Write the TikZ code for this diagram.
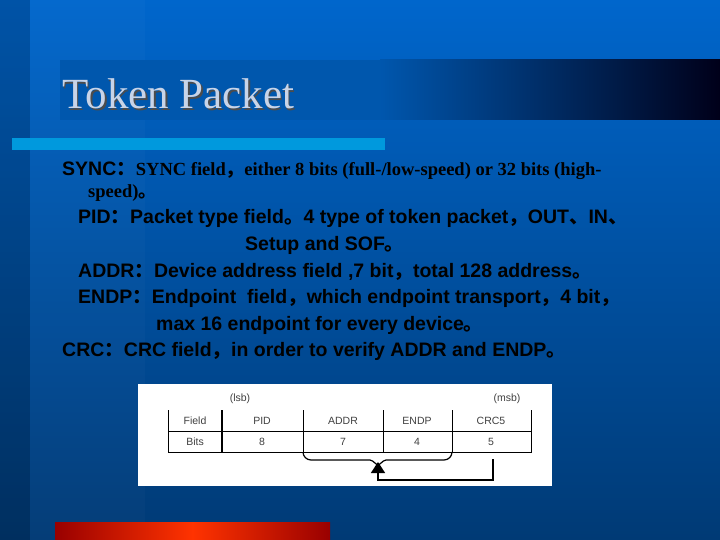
\documentclass[tikz,border=0pt]{standalone}
\usepackage{fontspec}
\setmainfont{Liberation Serif}
\setsansfont{Liberation Sans}
\newfontfamily\cjk{Noto Sans CJK SC}
\usetikzlibrary{arrows.meta}
\definecolor{bgtop}{HTML}{0066CC}
\definecolor{bgbot}{HTML}{003A75}
\definecolor{titlec}{HTML}{C8D4E8}
\definecolor{barc}{HTML}{0099DD}
\newcommand{\cp}[1]{{\cjk #1}}
\tikzset{
  txt/.style={anchor=base west, inner sep=0pt, font=\sffamily\bfseries\fontsize{19.5}{21}\selectfont, text=black},
  tbl/.style={inner sep=0pt, font=\sffamily\fontsize{10.5}{12}\selectfont, text=black!75},
  tl/.style={line width=0.9pt}
}
\begin{document}
\begin{tikzpicture}[x=1pt,y=-1pt]
\useasboundingbox (0,0) rectangle (720,540);
\shade[top color=bgtop, bottom color=bgbot] (0,0) rectangle (720,540);
\fill[black,opacity=0.18] (0,0) rectangle (30,540);
\fill[white,opacity=0.02] (30,0) rectangle (145,540);
% title band
\fill[bgtop!85!black] (60,60) rectangle (380,120);
\shade[left color=bgtop!85!black, right color=black!90!blue] (380,60) rectangle (720,120);
\node[anchor=base west, inner sep=0pt, font=\fontsize{43}{46}\selectfont, text=black!70] (shadow) at (63.5,110.5) {Token Packet};
\node[anchor=base west, inner sep=0pt, font=\fontsize{43}{46}\selectfont, text=titlec] (title) at (62,109) {Token Packet};
\fill[barc] (12,138) rectangle (385,150);
% orange bar
\shade[left color=red!60!black, right color=red!60!black, middle color=orange!40!red] (55,522) rectangle (330,540);
% text
\node[txt] (l1) at (62,176) {SYNC\cp{：}{\rmfamily\fontsize{18.5}{20}\selectfont SYNC field\cp{，}either 8 bits (full-/low-speed) or 32 bits (high-}};
\node[txt] (l2) at (88,197) {\rmfamily\fontsize{18.5}{20}\selectfont speed)\cp{。}};
\node[txt] (l3) at (78,224) {PID\cp{：}Packet type field\cp{。}4 type of token packet\cp{，}OUT\cp{、}IN\cp{、}};
\node[txt] (l4) at (245,250) {Setup and SOF\cp{。}};
\node[txt] (l5) at (78,277) {ADDR\cp{：}Device address field ,7 bit\cp{，}total 128 address\cp{。}};
\node[txt] (l6) at (78,303) {ENDP\cp{：}Endpoint\ \ field\cp{，}which endpoint transport\cp{，}4 bit\cp{，}};
\node[txt] (l7) at (156,330) {max 16 endpoint for every device\cp{。}};
\node[txt] (l8) at (62,356) {CRC\cp{：}CRC field\cp{，}in order to verify ADDR and ENDP\cp{。}};
% table image
\fill[white] (138,384) rectangle (552,486);
\draw[tl] (168,410) -- (168,452) -- (531,452) -- (531,410);
\draw[tl] (168,431) -- (531,431);
\draw[line width=2.4pt] (222,410) -- (222,452);
\draw[tl] (303,410) -- (303,452);
\draw[tl] (383,410) -- (383,452);
\draw[tl] (452,410) -- (452,452);
\node[tbl] (lsb) at (240,399) {(lsb)};
\node[tbl] (msb) at (507,399) {(msb)};
\node[tbl] (f0) at (195,421) {Field};
\node[tbl] (f1) at (262,421) {PID};
\node[tbl] (f2) at (343,421) {ADDR};
\node[tbl] (f3) at (417,421) {ENDP};
\node[tbl] (f4) at (491,421) {CRC5};
\node[tbl] (b0) at (195,442) {Bits};
\node[tbl] (b1) at (262,442) {8};
\node[tbl] (b2) at (343,442) {7};
\node[tbl] (b3) at (417,442) {4};
\node[tbl] (b4) at (491,442) {5};
\coordinate (tip) at (378,462);
\coordinate (cr) at (493,459);
\draw[line width=1.2pt] (303,452) to[out=-90,in=180] (311,460) -- (370,460) to[out=0,in=-90] (378,464) to[out=-90,in=180] (386,460) -- (444,460) to[out=0,in=-90] (452,452);
\draw[line width=1.6pt,-{Triangle[length=11pt,width=14pt]}] (cr) -- (493,480) -- (378,480) -- (tip);
\end{tikzpicture}
\end{document}
